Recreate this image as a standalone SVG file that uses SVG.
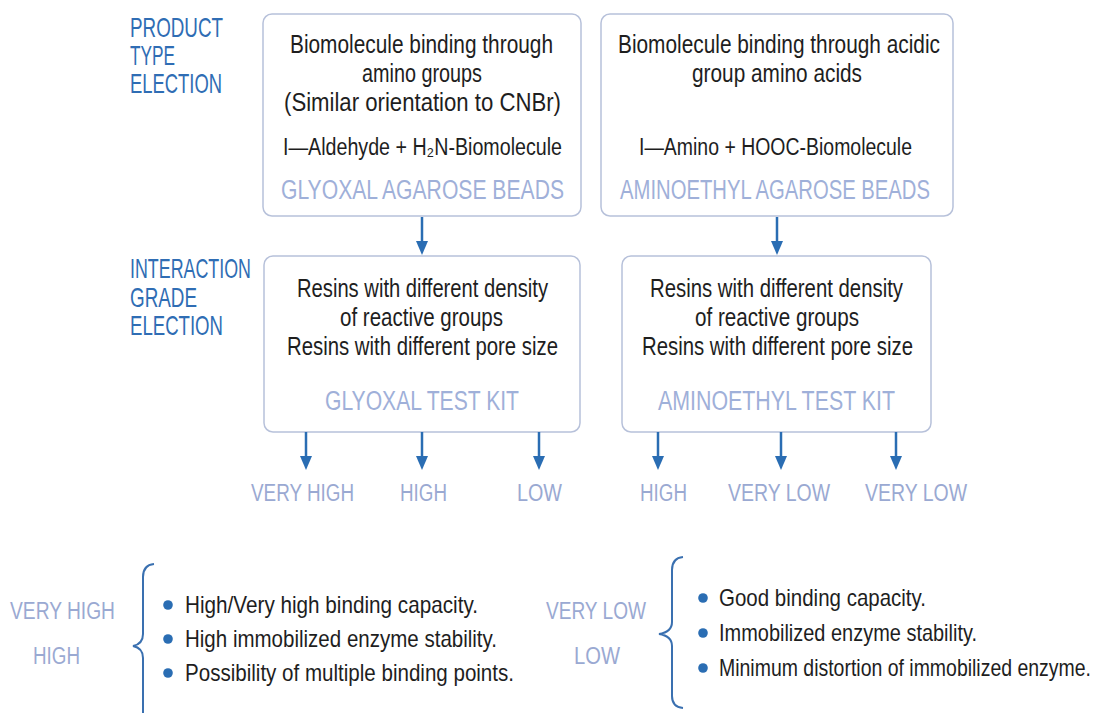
<svg xmlns="http://www.w3.org/2000/svg" width="1100" height="713" viewBox="0 0 1100 713">
<style>
text{font-family:"Liberation Sans Narrow","Liberation Sans",Arial,sans-serif;}
.hd{font-size:28px;fill:#2f6db4;}
.bt{font-size:26px;fill:#1e1e1e;}
.fm{font-size:23px;fill:#1e1e1e;}
.tt{font-size:27px;fill:#9fb0d9;}
.lv{font-size:23px;fill:#9aa9d2;}
.bl{font-size:24px;fill:#1e1e1e;}
.box{fill:#ffffff;stroke:#b7c1da;stroke-width:1.5;}
.ar{stroke:#2a6db3;stroke-width:2.5;fill:none;}
.dot{fill:#2a6db3;}
.br{stroke:#3a70b0;stroke-width:2;fill:none;}
</style>
<defs>
<marker id="ah" viewBox="0 0 14 12" refX="8" refY="6" markerWidth="14" markerHeight="12" markerUnits="userSpaceOnUse" orient="auto">
<path d="M0,0 L14,6 L0,12 z" fill="#2a6db3"/>
</marker>
</defs>
<rect width="1100" height="713" fill="#ffffff"/>

<g id="heading-product">
<text class="hd" x="130" y="37" textLength="93" lengthAdjust="spacingAndGlyphs">PRODUCT</text>
<text class="hd" x="130" y="65" textLength="45" lengthAdjust="spacingAndGlyphs">TYPE</text>
<text class="hd" x="130" y="93" textLength="92" lengthAdjust="spacingAndGlyphs">ELECTION</text>
</g>
<g id="heading-interaction">
<text class="hd" x="130" y="278" textLength="121" lengthAdjust="spacingAndGlyphs">INTERACTION</text>
<text class="hd" x="130" y="307" textLength="67" lengthAdjust="spacingAndGlyphs">GRADE</text>
<text class="hd" x="130" y="335" textLength="93" lengthAdjust="spacingAndGlyphs">ELECTION</text>
</g>

<g id="glyoxal-beads">
<rect class="box" x="263" y="14" width="318" height="202" rx="9"/>
<text class="bt" x="290" y="53" textLength="263" lengthAdjust="spacingAndGlyphs">Biomolecule binding through</text>
<text class="bt" x="362" y="82" textLength="120" lengthAdjust="spacingAndGlyphs">amino groups</text>
<text class="bt" x="284" y="111" textLength="277" lengthAdjust="spacingAndGlyphs">(Similar orientation to CNBr)</text>
<text class="fm" x="283" y="155" textLength="279" lengthAdjust="spacingAndGlyphs">I—Aldehyde + H₂N-Biomolecule</text>
<text class="tt" x="281" y="199" textLength="283" lengthAdjust="spacingAndGlyphs">GLYOXAL AGAROSE BEADS</text>
</g>

<g id="aminoethyl-beads">
<rect class="box" x="601" y="14" width="352" height="202" rx="9"/>
<text class="bt" x="618" y="53" textLength="322" lengthAdjust="spacingAndGlyphs">Biomolecule binding through acidic</text>
<text class="bt" x="692" y="82" textLength="170" lengthAdjust="spacingAndGlyphs">group amino acids</text>
<text class="fm" x="639" y="155" textLength="273" lengthAdjust="spacingAndGlyphs">I—Amino + HOOC-Biomolecule</text>
<text class="tt" x="620" y="199" textLength="310" lengthAdjust="spacingAndGlyphs">AMINOETHYL AGAROSE BEADS</text>
</g>

<g id="glyoxal-kit">
<rect class="box" x="264" y="256" width="316" height="176" rx="9"/>
<text class="bt" x="297" y="297" textLength="251" lengthAdjust="spacingAndGlyphs">Resins with different density</text>
<text class="bt" x="340" y="326" textLength="163" lengthAdjust="spacingAndGlyphs">of reactive groups</text>
<text class="bt" x="287" y="355" textLength="271" lengthAdjust="spacingAndGlyphs">Resins with different pore size</text>
<text class="tt" x="325" y="410" textLength="194" lengthAdjust="spacingAndGlyphs">GLYOXAL TEST KIT</text>
</g>

<g id="aminoethyl-kit">
<rect class="box" x="622" y="256" width="309" height="176" rx="9"/>
<text class="bt" x="650" y="297" textLength="253" lengthAdjust="spacingAndGlyphs">Resins with different density</text>
<text class="bt" x="695" y="326" textLength="164" lengthAdjust="spacingAndGlyphs">of reactive groups</text>
<text class="bt" x="642" y="355" textLength="271" lengthAdjust="spacingAndGlyphs">Resins with different pore size</text>
<text class="tt" x="658" y="410" textLength="237" lengthAdjust="spacingAndGlyphs">AMINOETHYL TEST KIT</text>
</g>

<g id="levels">
<text class="lv" x="251" y="501" textLength="103" lengthAdjust="spacingAndGlyphs">VERY HIGH</text>
<text class="lv" x="400" y="501" textLength="47" lengthAdjust="spacingAndGlyphs">HIGH</text>
<text class="lv" x="517" y="501" textLength="45" lengthAdjust="spacingAndGlyphs">LOW</text>
<text class="lv" x="640" y="501" textLength="47" lengthAdjust="spacingAndGlyphs">HIGH</text>
<text class="lv" x="728" y="501" textLength="102" lengthAdjust="spacingAndGlyphs">VERY LOW</text>
<text class="lv" x="865" y="501" textLength="102" lengthAdjust="spacingAndGlyphs">VERY LOW</text>
</g>

<g id="connectors">
<line class="ar" x1="422" y1="217" x2="422" y2="249" marker-end="url(#ah)"/>
<line class="ar" x1="777" y1="217" x2="777" y2="249" marker-end="url(#ah)"/>
<line class="ar" x1="306" y1="432" x2="306" y2="464" marker-end="url(#ah)"/>
<line class="ar" x1="422" y1="432" x2="422" y2="464" marker-end="url(#ah)"/>
<line class="ar" x1="539" y1="432" x2="539" y2="464" marker-end="url(#ah)"/>
<line class="ar" x1="658" y1="432" x2="658" y2="464" marker-end="url(#ah)"/>
<line class="ar" x1="781" y1="432" x2="781" y2="464" marker-end="url(#ah)"/>
<line class="ar" x1="896" y1="432" x2="896" y2="464" marker-end="url(#ah)"/>
</g>

<g id="legend-high">
<text class="lv" x="10" y="619" textLength="105" lengthAdjust="spacingAndGlyphs">VERY HIGH</text>
<text class="lv" x="33" y="664" textLength="47" lengthAdjust="spacingAndGlyphs">HIGH</text>
<path class="br" d="M154,564 Q143,565 143,577 L143,634 Q143,644 133,646 Q143,648 143,658 L143,720"/>
<circle class="dot" cx="168" cy="605" r="4.8"/>
<circle class="dot" cx="168" cy="639" r="4.8"/>
<circle class="dot" cx="168" cy="673" r="4.8"/>
<text class="bl" x="185" y="613" textLength="293" lengthAdjust="spacingAndGlyphs">High/Very high binding capacity.</text>
<text class="bl" x="185" y="647" textLength="312" lengthAdjust="spacingAndGlyphs">High immobilized enzyme stability.</text>
<text class="bl" x="185" y="681" textLength="329" lengthAdjust="spacingAndGlyphs">Possibility of multiple binding points.</text>
</g>

<g id="legend-low">
<text class="lv" x="546" y="619" textLength="100" lengthAdjust="spacingAndGlyphs">VERY LOW</text>
<text class="lv" x="574" y="664" textLength="46" lengthAdjust="spacingAndGlyphs">LOW</text>
<path class="br" d="M683,557 Q672,558 672,570 L672,622 Q672,632 659,634 Q672,636 672,646 L672,696 Q672,707 683,708"/>
<circle class="dot" cx="703" cy="598" r="4.8"/>
<circle class="dot" cx="703" cy="633" r="4.8"/>
<circle class="dot" cx="703" cy="668" r="4.8"/>
<text class="bl" x="719" y="606" textLength="207" lengthAdjust="spacingAndGlyphs">Good binding capacity.</text>
<text class="bl" x="719" y="641" textLength="258" lengthAdjust="spacingAndGlyphs">Immobilized enzyme stability.</text>
<text class="bl" transform="translate(719,676) scale(0.811,1)" x="0" y="0">Minimum distortion of immobilized enzyme.</text>
</g>
</svg>
